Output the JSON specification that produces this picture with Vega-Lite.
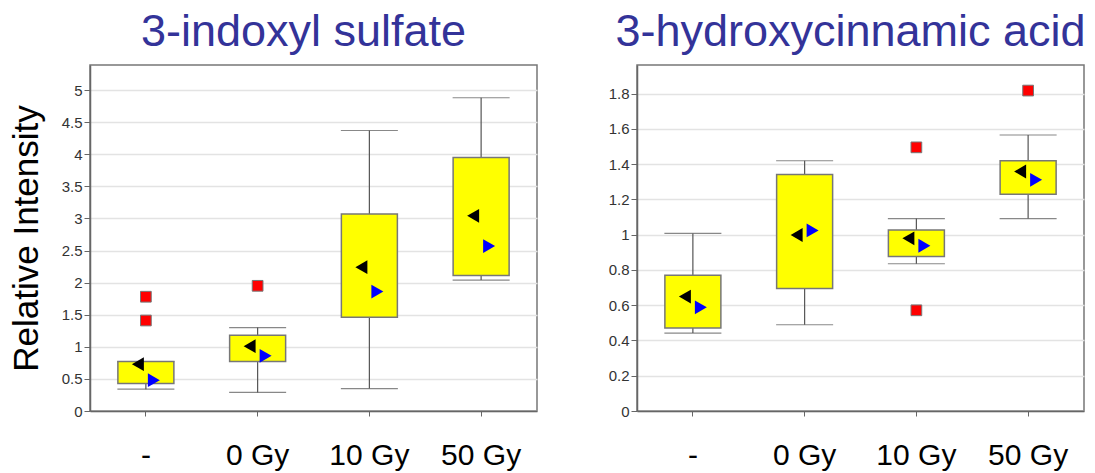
{
  "$schema": "https://vega.github.io/schema/vega-lite/v6.json",
  "background": "white",
  "padding": {"left": 8, "top": 9, "right": 0, "bottom": 0},
  "bounds": "flush",
  "spacing": 100,
  "config": {
    "font": "Liberation Sans",
    "view": {"stroke": "#777", "strokeWidth": 1.5},
    "title": {"font": "Liberation Sans", "fontSize": 45, "fontWeight": "normal", "color": "#333399", "anchor": "middle", "offset": 10, "dx": -10},
    "axisY": {"labelFontSize": 15, "labelColor": "#333", "labelPadding": 2, "tickSize": 6, "tickColor": "#666", "domainColor": "#666", "domainWidth": 1.5, "grid": true, "gridColor": "#e3e3e3", "gridWidth": 1.5, "titleFontSize": 35, "titleFontWeight": "normal", "titleColor": "black", "titleFont": "Liberation Sans", "titlePadding": 17, "labelOverlap": false},
    "axisX": {"labelFontSize": 30, "labelColor": "black", "labelPadding": 24, "tickSize": 5, "tickColor": "#666", "domainColor": "#666", "domainWidth": 1.5, "grid": false, "labelAngle": 0, "title": null}
  },
  "datasets": {
    "boxes": [
      {"panel": "A", "group": "-", "lo": 0.34, "q1": 0.43, "q3": 0.77, "hi": 0.77, "mean": 0.73, "median": 0.48},
      {"panel": "A", "group": "0 Gy", "lo": 0.29, "q1": 0.77, "q3": 1.18, "hi": 1.30, "mean": 1.01, "median": 0.86},
      {"panel": "A", "group": "10 Gy", "lo": 0.35, "q1": 1.46, "q3": 3.07, "hi": 4.37, "mean": 2.24, "median": 1.86},
      {"panel": "A", "group": "50 Gy", "lo": 2.04, "q1": 2.11, "q3": 3.95, "hi": 4.88, "mean": 3.04, "median": 2.57},
      {"panel": "B", "group": "-", "lo": 0.442, "q1": 0.47, "q3": 0.77, "hi": 1.007, "mean": 0.649, "median": 0.588},
      {"panel": "B", "group": "0 Gy", "lo": 0.489, "q1": 0.694, "q3": 1.341, "hi": 1.419, "mean": 0.998, "median": 1.024},
      {"panel": "B", "group": "10 Gy", "lo": 0.835, "q1": 0.876, "q3": 1.026, "hi": 1.091, "mean": 0.979, "median": 0.937},
      {"panel": "B", "group": "50 Gy", "lo": 1.091, "q1": 1.229, "q3": 1.419, "hi": 1.565, "mean": 1.358, "median": 1.311}
    ],
    "outliers": [
      {"panel": "A", "group": "-", "value": 1.78},
      {"panel": "A", "group": "-", "value": 1.41},
      {"panel": "A", "group": "0 Gy", "value": 1.95},
      {"panel": "B", "group": "10 Gy", "value": 1.495},
      {"panel": "B", "group": "10 Gy", "value": 0.571},
      {"panel": "B", "group": "50 Gy", "value": 1.817}
    ]
  },
  "hconcat": [
    {
      "title": {"text": "3-indoxyl sulfate"},
      "width": 447,
      "height": 346,
      "encoding": {
        "x": {"field": "group", "type": "nominal", "sort": ["-", "0 Gy", "10 Gy", "50 Gy"], "scale": {"domain": ["-", "0 Gy", "10 Gy", "50 Gy"], "paddingInner": 0, "paddingOuter": 0}, "axis": {"title": null}}
      },
      "layer": [
        {
          "data": {"name": "boxes"},
          "transform": [{"filter": "datum.panel === 'A'"}],
          "mark": {"type": "rule", "color": "#555", "strokeWidth": 1.2},
          "encoding": {
            "y": {"field": "lo", "type": "quantitative", "scale": {"domain": [0, 5.39], "nice": false}, "axis": {"values": [0, 0.5, 1, 1.5, 2, 2.5, 3, 3.5, 4, 4.5, 5], "format": "~g"}, "title": "Relative Intensity"},
            "y2": {"field": "hi"}
          }
        },
        {
          "data": {"name": "boxes"},
          "transform": [{"filter": "datum.panel === 'A'"}],
          "mark": {"type": "tick", "color": "#555", "size": 57, "thickness": 1.2, "orient": "horizontal"},
          "encoding": {"y": {"field": "lo", "type": "quantitative", "axis": {"values": [0, 0.5, 1, 1.5, 2, 2.5, 3, 3.5, 4, 4.5, 5], "format": "~g"}, "title": "Relative Intensity"}}
        },
        {
          "data": {"name": "boxes"},
          "transform": [{"filter": "datum.panel === 'A'"}],
          "mark": {"type": "tick", "color": "#555", "size": 57, "thickness": 1.2, "orient": "horizontal"},
          "encoding": {"y": {"field": "hi", "type": "quantitative", "axis": {"values": [0, 0.5, 1, 1.5, 2, 2.5, 3, 3.5, 4, 4.5, 5], "format": "~g"}, "title": "Relative Intensity"}}
        },
        {
          "data": {"name": "boxes"},
          "transform": [{"filter": "datum.panel === 'A'"}],
          "mark": {"type": "bar", "fill": "#ffff00", "stroke": "#777", "strokeWidth": 1.5, "size": 56},
          "encoding": {"y": {"field": "q1", "type": "quantitative", "axis": {"values": [0, 0.5, 1, 1.5, 2, 2.5, 3, 3.5, 4, 4.5, 5], "format": "~g"}, "title": "Relative Intensity"}, "y2": {"field": "q3"}}
        },
        {
          "data": {"name": "boxes"},
          "transform": [{"filter": "datum.panel === 'A'"}],
          "mark": {"type": "point", "shape": "triangle-left", "filled": true, "fill": "black", "stroke": null, "size": 190, "opacity": 1, "xOffset": -8},
          "encoding": {"y": {"field": "mean", "type": "quantitative", "axis": {"values": [0, 0.5, 1, 1.5, 2, 2.5, 3, 3.5, 4, 4.5, 5], "format": "~g"}, "title": "Relative Intensity"}}
        },
        {
          "data": {"name": "boxes"},
          "transform": [{"filter": "datum.panel === 'A'"}],
          "mark": {"type": "point", "shape": "triangle-right", "filled": true, "fill": "#0000ff", "stroke": null, "size": 190, "opacity": 1, "xOffset": 8},
          "encoding": {"y": {"field": "median", "type": "quantitative", "axis": {"values": [0, 0.5, 1, 1.5, 2, 2.5, 3, 3.5, 4, 4.5, 5], "format": "~g"}, "title": "Relative Intensity"}}
        },
        {
          "data": {"name": "outliers"},
          "transform": [{"filter": "datum.panel === 'A'"}],
          "mark": {"type": "point", "shape": "square", "filled": true, "fill": "#ff0000", "stroke": "#777", "strokeWidth": 1, "size": 115, "opacity": 1},
          "encoding": {"y": {"field": "value", "type": "quantitative", "axis": {"values": [0, 0.5, 1, 1.5, 2, 2.5, 3, 3.5, 4, 4.5, 5], "format": "~g"}, "title": "Relative Intensity"}}
        }
      ]
    },
    {
      "title": {"text": "3-hydroxycinnamic acid"},
      "width": 447,
      "height": 346,
      "encoding": {
        "x": {"field": "group", "type": "nominal", "sort": ["-", "0 Gy", "10 Gy", "50 Gy"], "scale": {"domain": ["-", "0 Gy", "10 Gy", "50 Gy"], "paddingInner": 0, "paddingOuter": 0}, "axis": {"title": null}}
      },
      "layer": [
        {
          "data": {"name": "boxes"},
          "transform": [{"filter": "datum.panel === 'B'"}],
          "mark": {"type": "rule", "color": "#555", "strokeWidth": 1.2},
          "encoding": {
            "y": {"field": "lo", "type": "quantitative", "scale": {"domain": [0, 1.962], "nice": false}, "axis": {"values": [0, 0.2, 0.4, 0.6, 0.8, 1, 1.2, 1.4, 1.6, 1.8], "format": "~g"}, "title": null},
            "y2": {"field": "hi"}
          }
        },
        {
          "data": {"name": "boxes"},
          "transform": [{"filter": "datum.panel === 'B'"}],
          "mark": {"type": "tick", "color": "#555", "size": 57, "thickness": 1.2, "orient": "horizontal"},
          "encoding": {"y": {"field": "lo", "type": "quantitative", "axis": {"values": [0, 0.2, 0.4, 0.6, 0.8, 1, 1.2, 1.4, 1.6, 1.8], "format": "~g"}, "title": null}}
        },
        {
          "data": {"name": "boxes"},
          "transform": [{"filter": "datum.panel === 'B'"}],
          "mark": {"type": "tick", "color": "#555", "size": 57, "thickness": 1.2, "orient": "horizontal"},
          "encoding": {"y": {"field": "hi", "type": "quantitative", "axis": {"values": [0, 0.2, 0.4, 0.6, 0.8, 1, 1.2, 1.4, 1.6, 1.8], "format": "~g"}, "title": null}}
        },
        {
          "data": {"name": "boxes"},
          "transform": [{"filter": "datum.panel === 'B'"}],
          "mark": {"type": "bar", "fill": "#ffff00", "stroke": "#777", "strokeWidth": 1.5, "size": 56},
          "encoding": {"y": {"field": "q1", "type": "quantitative", "axis": {"values": [0, 0.2, 0.4, 0.6, 0.8, 1, 1.2, 1.4, 1.6, 1.8], "format": "~g"}, "title": null}, "y2": {"field": "q3"}}
        },
        {
          "data": {"name": "boxes"},
          "transform": [{"filter": "datum.panel === 'B'"}],
          "mark": {"type": "point", "shape": "triangle-left", "filled": true, "fill": "black", "stroke": null, "size": 190, "opacity": 1, "xOffset": -8},
          "encoding": {"y": {"field": "mean", "type": "quantitative", "axis": {"values": [0, 0.2, 0.4, 0.6, 0.8, 1, 1.2, 1.4, 1.6, 1.8], "format": "~g"}, "title": null}}
        },
        {
          "data": {"name": "boxes"},
          "transform": [{"filter": "datum.panel === 'B'"}],
          "mark": {"type": "point", "shape": "triangle-right", "filled": true, "fill": "#0000ff", "stroke": null, "size": 190, "opacity": 1, "xOffset": 8},
          "encoding": {"y": {"field": "median", "type": "quantitative", "axis": {"values": [0, 0.2, 0.4, 0.6, 0.8, 1, 1.2, 1.4, 1.6, 1.8], "format": "~g"}, "title": null}}
        },
        {
          "data": {"name": "outliers"},
          "transform": [{"filter": "datum.panel === 'B'"}],
          "mark": {"type": "point", "shape": "square", "filled": true, "fill": "#ff0000", "stroke": "#777", "strokeWidth": 1, "size": 115, "opacity": 1},
          "encoding": {"y": {"field": "value", "type": "quantitative", "axis": {"values": [0, 0.2, 0.4, 0.6, 0.8, 1, 1.2, 1.4, 1.6, 1.8], "format": "~g"}, "title": null}}
        }
      ]
    }
  ]
}
